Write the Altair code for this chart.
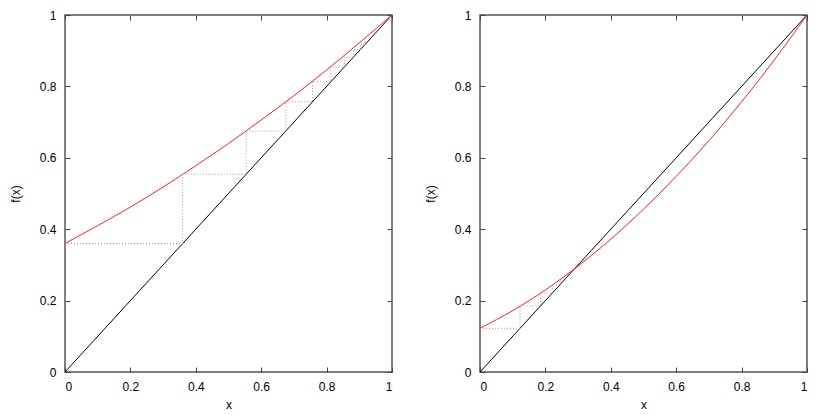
import altair as alt
import pandas as pd

# Values
x_grid = [0.0, 0.1, 0.2, 0.3, 0.4, 0.5, 0.6, 0.7, 0.8, 0.9, 1.0]
left_curve = [0.36, 0.41, 0.462, 0.518, 0.578, 0.64, 0.706, 0.774, 0.846, 0.922, 1.0]
right_curve = [0.1225, 0.172, 0.230, 0.297, 0.372, 0.456, 0.548, 0.648, 0.757, 0.874, 1.0]
left_iter = [0.36, 0.554, 0.675, 0.757, 0.813, 0.854, 0.882, 0.903, 0.918, 0.93]
right_iter = [0.1225, 0.185, 0.221, 0.245, 0.26]
diag_x = [0.0, 1.0]
tick_vals = [0, 0.2, 0.4, 0.6, 0.8, 1]

W, H = 327, 357
FONT = "Liberation Sans"


def cobweb_table(iters):
    rows = [{"x": 0.0, "y": iters[0], "o": 0}]
    for i in range(len(iters) - 1):
        rows.append({"x": iters[i], "y": iters[i], "o": len(rows)})
        rows.append({"x": iters[i], "y": iters[i + 1], "o": len(rows)})
    return pd.DataFrame(rows)


def panel(curve, iters):
    sx = alt.Scale(domain=[0, 1], nice=False, zero=False)
    sy = alt.Scale(domain=[0, 1], nice=False, zero=False)

    lab_x = alt.Axis(orient="bottom", title="x", values=tick_vals, format="~g", ticks=False,
                     domain=False, grid=False, labelPadding=9, titlePadding=7, labelFont=FONT,
                     titleFont=FONT, labelFontSize=12, titleFontSize=12,
                     titleFontWeight="normal", labelColor="black", titleColor="black")
    lab_y = alt.Axis(orient="left", title="f(x)", values=tick_vals, format="~g", ticks=False,
                     domain=False, grid=False, labelPadding=9, titlePadding=17, labelFont=FONT,
                     titleFont=FONT, labelFontSize=12, titleFontSize=12,
                     titleFontWeight="normal", labelColor="black", titleColor="black")

    def tick_axis(orient, offset):
        return alt.Axis(orient=orient, offset=offset, values=tick_vals, labels=False,
                        domain=False, grid=False, ticks=True, tickSize=5,
                        tickColor="#444444", tickWidth=1, title=None)

    diag = alt.Chart(pd.DataFrame({"x": diag_x, "y": diag_x})).mark_line(
        color="black", strokeWidth=1
    ).encode(
        x=alt.X("x:Q", scale=sx, axis=lab_x),
        y=alt.Y("y:Q", scale=sy, axis=lab_y),
    )

    red = alt.Chart(pd.DataFrame({"x": x_grid, "y": curve})).mark_line(
        color="#ff2020", strokeWidth=1, interpolate="monotone"
    ).encode(
        x=alt.X("x:Q", scale=sx, axis=tick_axis("top", -H)),
        y=alt.Y("y:Q", scale=sy, axis=tick_axis("right", -W)),
    )

    web = alt.Chart(cobweb_table(iters)).mark_line(
        color="#999999", strokeWidth=1, strokeDash=[1, 2]
    ).encode(
        x=alt.X("x:Q", scale=sx, axis=tick_axis("bottom", -H)),
        y=alt.Y("y:Q", scale=sy, axis=tick_axis("left", -W)),
        order="o:Q",
    )

    return alt.layer(diag, red, web).resolve_axis(x="independent", y="independent").properties(
        width=W, height=H
    )


chart = alt.hconcat(panel(left_curve, left_iter), panel(right_curve, right_iter), spacing=28).properties(
    padding={"left": 0, "top": 0, "right": 0, "bottom": 0}
).configure(background="white").configure_view(stroke="#555555", strokeWidth=1.5)

chart.save("out.html", embed_options={"renderer": "svg", "actions": False})
